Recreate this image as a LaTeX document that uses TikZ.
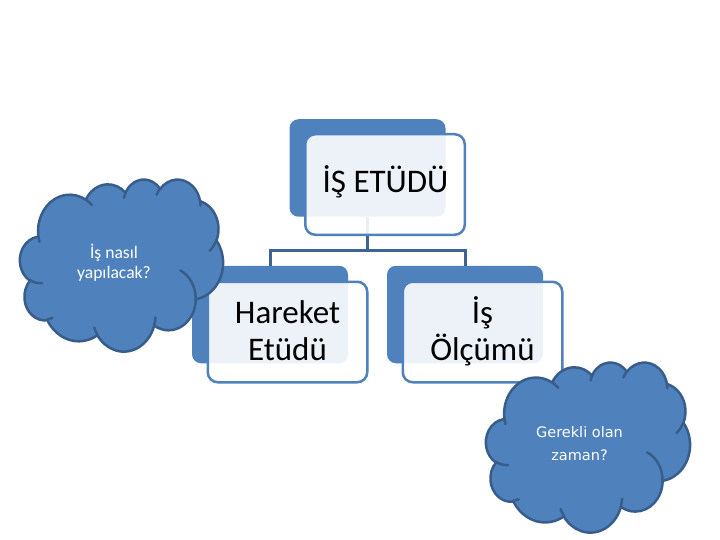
\documentclass[tikz,border=0pt]{standalone}
\usepackage{fontspec}
\setmainfont{Carlito}
\newfontfamily\dejavu{DejaVu Sans}
\definecolor{accent}{HTML}{4F81BD}
\definecolor{cloudline}{HTML}{385D8A}
\definecolor{connc}{HTML}{3C6496}
\tikzset{
  backbox/.style={fill=accent, draw=none, rounded corners=9pt, inner sep=0pt, minimum width=156pt, minimum height=97.5pt},
  frontbox/.style={draw=accent, line width=2.5pt, fill=white, fill opacity=0.9, draw opacity=1, rounded corners=10pt, inner sep=0pt, minimum width=159.5pt, minimum height=100.5pt},
  connline/.style={draw=connc, line width=3pt},
  bigtext/.style={font=\fontsize{33}{37}\selectfont, align=center, text=black, inner sep=0pt},
  cloudbody/.style={fill=accent, draw=cloudline, line width=2.5pt, line join=round},
  cloudinner/.style={draw=cloudline, line width=2.5pt, line cap=round},
  oarc/.style n args={4}{x radius=#1, y radius=#2,
    start angle={atan2((#1)*sin(#3),(#2)*cos(#3))},
    delta angle={Mod(atan2((#1)*sin((#3)+(#4)),(#2)*cos((#3)+(#4)))-atan2((#1)*sin(#3),(#2)*cos(#3)),360)}},
}
\newcommand\pptcloud[4]{%
\begin{scope}[shift={(#1,#2)}, x=#3pt, y=-#4pt]
  \path[cloudbody] (9.028,33.264)
    arc[oarc={15.632}{21.273}{-190.4875}{123.7805}]
    arc[oarc={12.345}{16.822}{-144.1024}{89.9452}]
    arc[oarc={10.104}{13.762}{-145.8079}{99.7230}]
    arc[oarc={11.243}{15.266}{-130.9861}{117.2417}]
    arc[oarc={12.345}{16.836}{-78.7089}{109.0269}]
    arc[oarc={15.683}{21.343}{-46.2673}{130.2690}]
    arc[oarc={13.391}{18.211}{0.6250}{114.0333}]
    arc[oarc={15.630}{21.331}{22.4516}{115.1726}]
    arc[oarc={17.870}{24.405}{66.2426}{75.7110}]
    arc[oarc={10.093}{13.699}{-274.9421}{146.7356}]
    arc[oarc={10.058}{13.762}{-246.8285}{152.5189}]
    -- cycle;
  \path[cloudinner]
    (10.863,60.595) arc[oarc={10.058}{13.762}{86.742}{26.4295}]
    (16.037,80.785) arc[oarc={10.093}{13.699}{73.6105}{11.4475}]
    (38.144,90.486) arc[oarc={15.630}{21.331}{137.6242}{14.0811}]
    (66.729,80.442) arc[oarc={15.630}{21.331}{6.4533}{15.9984}]
    (79.002,53.134) arc[oarc={13.391}{18.211}{-70.2924}{70.9174}]
    (96.755,35.542) arc[oarc={12.345}{16.836}{30.3180}{27.7515}]
    (88.713,12.560) arc[oarc={11.243}{15.266}{-13.7443}{14.8589}]
    (67.310,9.148) arc[oarc={11.243}{15.266}{-149.1815}{18.1954}]
    (51.252,10.926) arc[oarc={10.104}{13.762}{-163.4943}{17.6864}]
    (32.407,12.019) arc[oarc={15.632}{21.273}{-66.7070}{12.3194}]
    (9.553,36.549) arc[oarc={15.632}{21.273}{157.6544}{11.8582}];
\end{scope}}
\begin{document}
\begin{tikzpicture}[x=1pt, y=-1pt]
  \useasboundingbox (0,0) rectangle (720,540);
  \fill[white] (0,0) rectangle (720,540);
  % back boxes
  \node[backbox] (topback) at (367.5,168) {};
  \node[backbox] (lback) at (270,314.5) {};
  \node[backbox] (rback) at (465,314.5) {};
  % connectors
  \coordinate (mid) at (367.5,250);
  \draw[connline] (topback.south) -- (mid);
  \draw[connline] (lback.north) |- (mid) -| (rback.north);
  % front boxes
  \node[frontbox] (topfront) at (385,184.5) {};
  \node[frontbox] (lfront) at (287.5,332) {};
  \node[frontbox] (rfront) at (482.5,332) {};
  % texts
  \node[bigtext, anchor=base] (ttop) at (385.5,193) {İŞ ETÜDÜ};
  \node[bigtext] (tleft) at (287.5,331) {Hareket\\Etüdü};
  \node[bigtext] (tright) at (482.5,331) {İş\\Ölçümü};
  % clouds
  \pptcloud{20}{179}{2.03}{1.72}
  \pptcloud{486}{362}{2.04}{1.70}
  \node[font=\fontsize{17.6}{20.5}\selectfont, align=center, text=white, inner sep=0pt] (cl1text) at (114,262.5) {İş nasıl\\yapılacak?};
  \node[font=\dejavu\fontsize{14.5}{23}\selectfont, align=center, text=white, inner sep=0pt] (cl2text) at (579.5,444) {Gerekli olan\\zaman?};
\end{tikzpicture}
\end{document}
